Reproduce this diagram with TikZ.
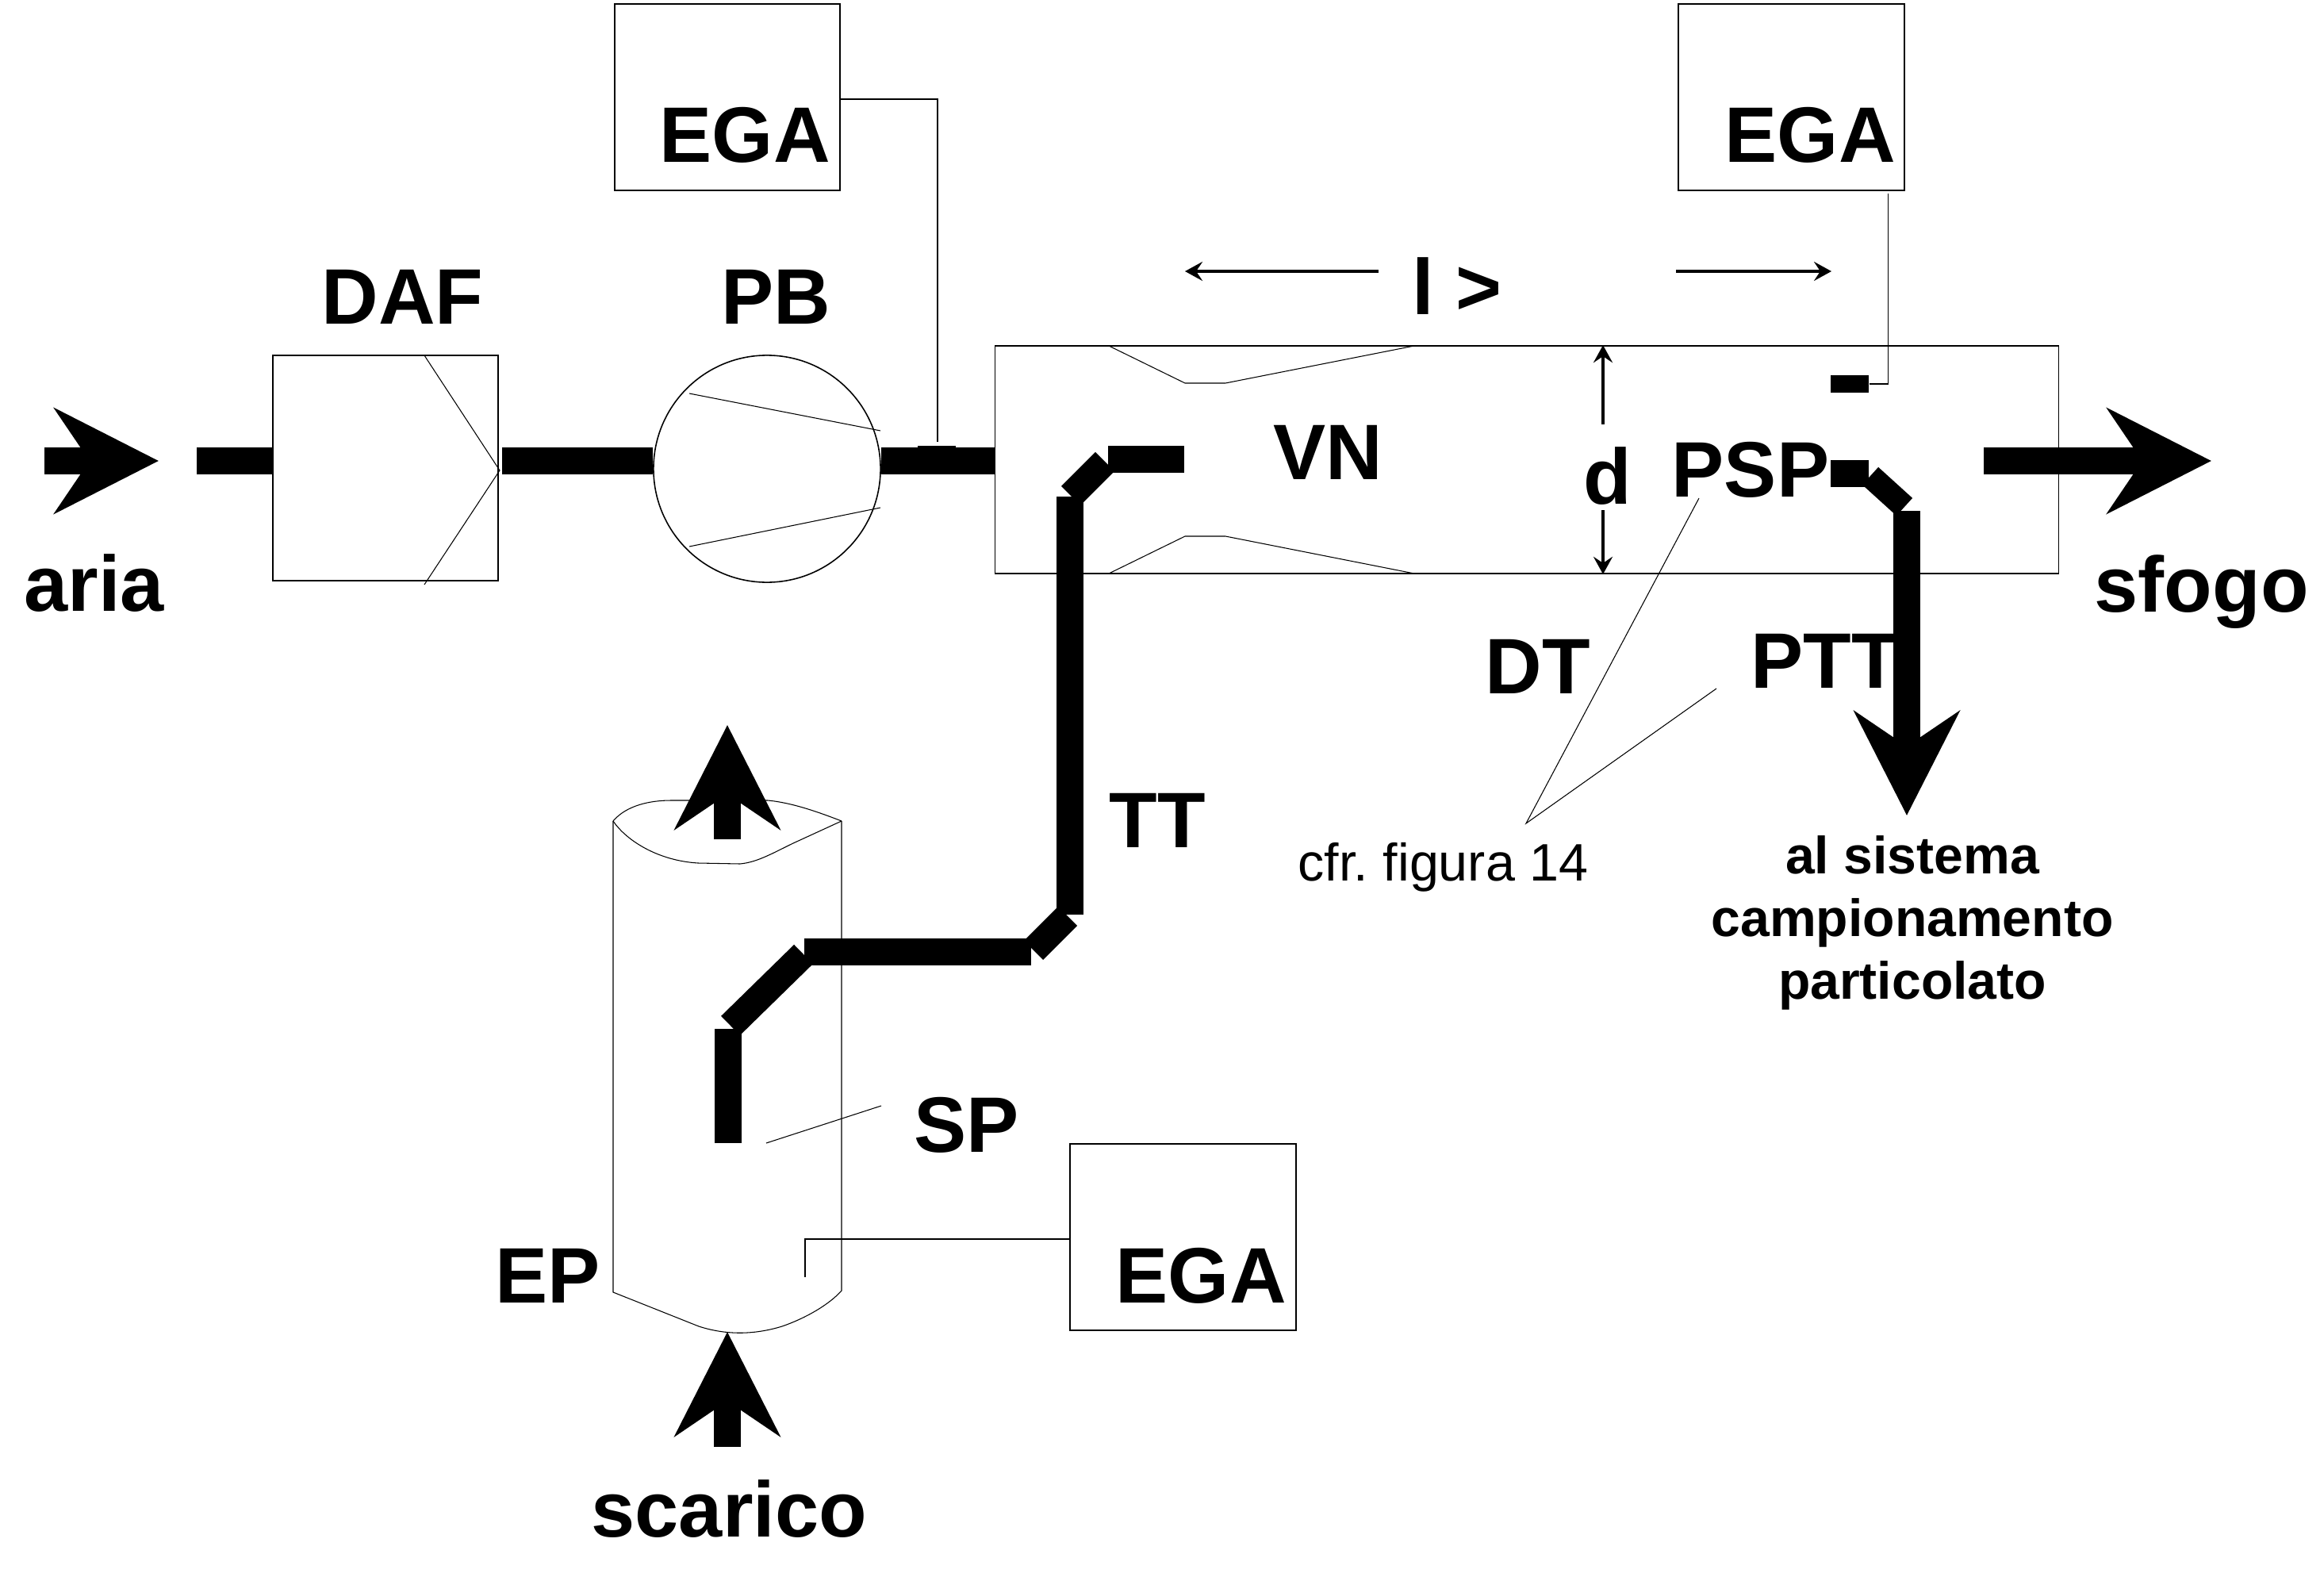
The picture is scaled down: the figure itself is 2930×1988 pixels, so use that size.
\documentclass[tikz,border=0pt]{standalone}
\usepackage{fontspec}
\setmainfont{Liberation Sans}
\usetikzlibrary{arrows.meta}

\begin{document}
\frenchspacing
\begin{tikzpicture}[
	x=0.01cm,y=-0.01cm,
	wire/.style={line width=0.3pt},
	frame/.style={draw,line width=0.45pt,inner sep=0},
	pipe/.style={line width=0.34cm},
	flow/.style={pipe,-{Stealth[length=1.31cm,width=1.32cm,inset=0.44cm]}},
	dim/.style={line width=1pt,-{Stealth[length=0.22cm,width=0.24cm,inset=0.08cm]}},
	tag/.style={inner sep=0,anchor=base west,font=\bfseries\fontsize{28.2}{30}\selectfont},
	note/.style={inner sep=0,anchor=base west,font=\fontsize{18.9}{22}\selectfont},
	probe/.style={fill=black,inner sep=0,minimum width=0.48cm},
]
	
	\useasboundingbox (0,0) rectangle (2930,1988);
	
	\coordinate (axis) at (0,581);
	
	% The units on the air line
	\node (daf) [frame,minimum width=2.84cm,minimum height=2.84cm] at (486,590) {};
	\node (pb) [frame,circle,minimum size=2.86cm] at (967,591) {};
	\node (dt) [frame,minimum width=13.4cm,minimum height=2.87cm] at (1925,579.5) {};
	
	% The analysers
	\node (egaa) [frame,minimum width=2.84cm,minimum height=2.35cm] at (917,122.5) {};
	\node (egab) [frame,minimum width=2.85cm,minimum height=2.35cm] at (2258.5,122.5) {};
	\node (egac) [frame,minimum width=2.85cm,minimum height=2.35cm] at (1491.5,1559.5) {};
	
	% The inlet and the air line
	\coordinate (airfrom) at (56,581);
	\coordinate (airto) at (200,581);
	\coordinate (stub) at (248,581);
	\draw [flow] (airfrom) -- (airto);
	\draw [pipe] (stub) -- (daf.west |- axis);
	\draw [pipe,shorten <=0.04cm] (daf.east |- axis) -- (pb.west |- axis);
	\draw [pipe] (pb.east |- axis) -- (dt.west |- axis);
	
	% The filter and the blower
	\coordinate (filtera) at (535,448);
	\coordinate (filterb) at (630,593);
	\coordinate (filterc) at (535,737);
	\draw [wire] (filtera) -- (filterb) -- (filterc);
	\coordinate (blowa) at (869,496);
	\coordinate (blowb) at (1110,543);
	\coordinate (blowc) at (869,689);
	\coordinate (blowd) at (1110,640);
	\draw [wire] (blowa) -- (blowb);
	\draw [wire] (blowc) -- (blowd);
	
	% The venturi throat
	\foreach \y/\t/\s in {436/483/top,723/676/bot}{
		\coordinate (vn\s a) at (1398,\y);
		\coordinate (vn\s b) at (1494,\t);
		\coordinate (vn\s c) at (1545,\t);
		\coordinate (vn\s d) at (1783,\y);
		\draw [wire] (vn\s a) -- (vn\s b) -- (vn\s c) -- (vn\s d);
	}
	
	% The exhaust pipe
	\coordinate (epa) at (773,1035);
	\coordinate (epb) at (773,1629);
	\coordinate (epc) at (1061,1627);
	\coordinate (epd) at (1061,1035);
	\draw [wire] (epa) -- (epb) -- (881,1672)
	      .. controls (915,1683) and (950,1683) .. (986,1672)
	      .. controls (1015,1662) and (1045,1645) .. (epc) -- (epd);
	\draw [wire] (epa) .. controls (790,1015) and (820,1009) .. (846,1009)
	      -- (968,1009) .. controls (1000,1012) and (1035,1025) .. (epd);
	\draw [wire] (epa) .. controls (790,1060) and (830,1085) .. (880,1088)
	      -- (933,1089) .. controls (955,1087) and (975,1075) .. (1000,1063) -- (epd);
	
	% The flow through the exhaust pipe
	\coordinate (exfrom) at (917,1824);
	\coordinate (exin) at (917,1679);
	\coordinate (exstart) at (917,1058);
	\coordinate (exout) at (917,914);
	\draw [flow] (exfrom) -- (exin);
	\draw [flow] (exstart) -- (exout);
	
	% The transfer tube
	\coordinate (spa) at (918,1441);
	\coordinate (spb) at (918,1297);
	\coordinate (spc) at (921,1293);
	\coordinate (spd) at (1013,1203);
	\coordinate (spe) at (1014,1200);
	\coordinate (spf) at (1300,1200);
	\coordinate (spg) at (1303,1198);
	\coordinate (sph) at (1346,1155);
	\coordinate (spi) at (1349,1153);
	\coordinate (spj) at (1349,626);
	\coordinate (spk) at (1350,625);
	\coordinate (spl) at (1393,582);
	\coordinate (spm) at (1397,579);
	\coordinate (spn) at (1493,579);
	\foreach \a/\b in {spa/spb,spc/spd,spe/spf,spg/sph,spi/spj,spk/spl,spm/spn}{
		\draw [pipe] (\a) -- (\b);
	}
	
	% The probes in the tunnel
	\node (pspup) [probe,minimum height=0.22cm] at (2332,484) {};
	\node (pspdn) [probe,minimum height=0.34cm] at (2332,597) {};
	\coordinate (ptta) at (2358,600);
	\coordinate (pttb) at (2401,639);
	\coordinate (pttc) at (2404,644);
	\coordinate (pttd) at (2404,1028);
	\draw [pipe,line width=0.3cm] (ptta) -- (pttb);
	\draw [flow] (pttc) -- (pttd);
	
	% The tunnel outlet
	\coordinate (ventfrom) at (2501,581);
	\coordinate (ventto) at (2788,581);
	\draw [flow] (ventfrom) -- (ventto);
	
	% The lines to the analysers
	\coordinate (tapa) at (1182,557);
	\coordinate (tapb) at (2380,244);
	\coordinate (tapc) at (1015,1610);
	\node (tapfoot) [probe,minimum width=0.48cm,minimum height=0.03cm] at (1181,563) {};
	\draw [wire] ([yshift=-0.025cm]egaa.east) -| (tapa);
	\draw [wire] (pspup.east) -| (tapb);
	\draw [wire] ([yshift=-0.025cm]egac.west) -| (tapc);
	
	% The dimension arrows
	\coordinate (lleft) at (1738,342);
	\coordinate (lright) at (2113,342);
	\coordinate (dup) at (2021,535);
	\coordinate (ddown) at (2021,643);
	\draw [dim] (lleft) -- ++(-244,0);
	\draw [dim] (lright) -- ++(196,0);
	\draw [dim] (dup) -- (dup |- dt.north);
	\draw [dim] (ddown) -- (ddown |- dt.south);
	
	% The texts
	\node (daftag) [tag] at (405,408) {DAF};
	\node (pbtag) [tag] at (909,408) {PB};
	\node (ariatag) [tag] at (30,770) {aria};
	\node (vntag) [tag] at (1605,604) {VN};
	\node (ltag) [tag] at (1780,396) {l >};
	\node (dtag) [tag] at (1996,635) {d};
	\node (psptag) [tag] at (2107,626) {PSP};
	\node (dttag) [tag] at (1872,874) {DT};
	\node (ptttag) [tag] at (2207,867) {PTT};
	\node (sfogotag) [tag] at (2640,771) {sfogo};
	\node (tttag) [tag] at (1398,1068) {TT};
	\node (sptag) [tag] at (1152,1452) {SP};
	\node (eptag) [tag] at (624,1642) {EP};
	\node (scaricotag) [tag] at (745,1937) {scarico};
	\node (egaatag) [tag] at (831,205) {EGA};
	\node (egabtag) [tag] at (2174,205) {EGA};
	\node (egactag) [tag] at (1406,1642) {EGA};
	\node (cfr) [note] at (1636,1110) {cfr. figura 14};
	\node (samp) [inner sep=0,anchor=north,align=center,
	      font=\bfseries\fontsize{18.8}{22.5}\selectfont] at (2411,1053)
	      {al sistema\\campionamento\\particolato};
	
	% The leaders
	\coordinate (leadtip) at (1924,1038);
	\coordinate (leadpsp) at (2142,628);
	\coordinate (leadptt) at (2164,868);
	\coordinate (leadsp) at (1111,1394);
	\coordinate (leadspb) at (966,1441);
	\draw [wire] (leadpsp) -- (leadtip) -- (leadptt);
	\draw [wire] (leadspb) -- (leadsp);
	
\end{tikzpicture}
\end{document}
